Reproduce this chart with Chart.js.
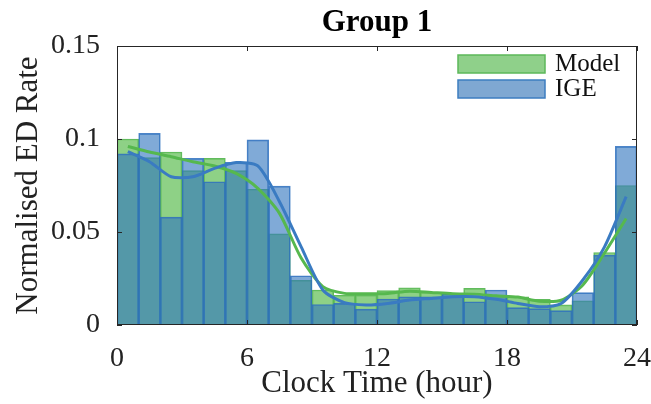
<!DOCTYPE html>
<html>
<head>
<meta charset="utf-8">
<script src="https://cdn.jsdelivr.net/npm/chart.js@4.4.1/dist/chart.umd.min.js"></script>
<style>
  html, body { margin: 0; padding: 0; background: #fff; }
  #wrap { width: 651px; height: 404px; }
</style>
</head>
<body>
<div id="wrap"><canvas id="edChart" width="651" height="404"></canvas></div>
<script>
// histogram bins (one per clock hour)
const hourBins = ['0-1','1-2','2-3','3-4','4-5','5-6','6-7','7-8','8-9','9-10','10-11','11-12',
  '12-13','13-14','14-15','15-16','16-17','17-18','18-19','19-20','20-21','21-22','22-23','23-24'];
const modelRate = [0.100, 0.090, 0.093, 0.083, 0.0896, 0.083, 0.073, 0.049, 0.024, 0.0188, 0.016, 0.016,
  0.0185, 0.020, 0.0176, 0.0167, 0.0197, 0.016, 0.0152, 0.0138, 0.0108, 0.013, 0.039, 0.075];
const igeRate = [0.092, 0.103, 0.058, 0.0896, 0.077, 0.0875, 0.0995, 0.0747, 0.0265, 0.011, 0.0116, 0.0085,
  0.014, 0.0152, 0.0152, 0.017, 0.0125, 0.0188, 0.0093, 0.0088, 0.0077, 0.0174, 0.0376, 0.096];

// smoothed curves at bin centres
const binCentres = [0.5, 1.5, 2.5, 3.5, 4.5, 5.5, 6.5, 7.5, 8.5, 9.5, 10.5, 11.5,
  12.5, 13.5, 14.5, 15.5, 16.5, 17.5, 18.5, 19.5, 20.5, 21.5, 22.5, 23.5];
const modelSmooth = [0.096, 0.093, 0.0905, 0.0878, 0.0855, 0.0815, 0.0735, 0.060, 0.036, 0.0206, 0.017, 0.0168,
  0.017, 0.0182, 0.0175, 0.0168, 0.0166, 0.0157, 0.015, 0.0128, 0.0133, 0.0215, 0.0387, 0.0573];
const igeSmooth = [0.0932, 0.0878, 0.0797, 0.0797, 0.0842, 0.0873, 0.0855, 0.0663, 0.042, 0.0188, 0.012, 0.0108,
  0.0116, 0.0134, 0.0143, 0.0152, 0.0152, 0.0138, 0.0116, 0.0098, 0.0116, 0.0242, 0.042, 0.069];

const xTicks = [0, 6, 12, 18, 24];
const yTicks = [0, 0.05, 0.1, 0.15];

const serif = '"Liberation Serif", "DejaVu Serif", serif';
const inkColor = '#262626';

const toPoints = vals => vals.map((v, i) => ({ x: binCentres[i], y: v }));

// box, inward ticks, title and legend
const framePlugin = {
  id: 'frame',
  afterDraw(chart) {
    const { ctx, chartArea: a, scales } = chart;
    ctx.save();
    ctx.strokeStyle = inkColor;
    ctx.lineWidth = 1;
    ctx.strokeRect(a.left + 0.5, a.top + 0.5, a.right - a.left - 1, a.bottom - a.top - 1);
    ctx.beginPath();
    xTicks.forEach(v => {
      const px = Math.round(scales.x2.getPixelForValue(v)) + 0.5;
      ctx.moveTo(px, a.bottom); ctx.lineTo(px, a.bottom - 5);
      ctx.moveTo(px, a.top); ctx.lineTo(px, a.top + 5);
    });
    yTicks.forEach(v => {
      const py = Math.round(scales.y.getPixelForValue(v)) + 0.5;
      ctx.moveTo(a.left, py); ctx.lineTo(a.left + 5, py);
      ctx.moveTo(a.right, py); ctx.lineTo(a.right - 5, py);
    });
    ctx.stroke();

    // title
    ctx.fillStyle = '#000';
    ctx.font = 'bold 31px ' + serif;
    ctx.textAlign = 'center';
    ctx.textBaseline = 'middle';
    ctx.fillText('Group 1', (a.left + a.right) / 2, a.top - 23);

    // legend (bars only)
    const items = [
      { text: 'Model', fill: 'rgba(143,208,138,1)', edge: '#5cb85a' },
      { text: 'IGE', fill: 'rgba(127,168,210,1)', edge: '#3d7dc0' }
    ];
    const lx = a.right - 179, ly = a.top + 9;
    ctx.font = '25px ' + serif;
    ctx.textAlign = 'left';
    items.forEach((it, i) => {
      const y = ly + i * 25;
      ctx.fillStyle = it.fill;
      ctx.fillRect(lx, y, 87, 18);
      ctx.strokeStyle = it.edge;
      ctx.lineWidth = 1.5;
      ctx.strokeRect(lx, y, 87, 18);
      ctx.fillStyle = '#111';
      ctx.fillText(it.text, lx + 97, y + 9);
    });
    ctx.restore();
  }
};

new Chart(document.getElementById('edChart'), {
  type: 'bar',
  data: {
    labels: hourBins,
    datasets: [
      {
        label: 'Model smooth', type: 'line', xAxisID: 'x2',
        data: toPoints(modelSmooth),
        borderColor: '#56b84e', borderWidth: 3, pointRadius: 0,
        tension: 0.25, order: 1
      },
      {
        label: 'IGE smooth', type: 'line', xAxisID: 'x2',
        data: toPoints(igeSmooth),
        borderColor: '#3a7bc2', borderWidth: 3, pointRadius: 0,
        tension: 0.25, order: 0
      },
      {
        label: 'IGE', data: igeRate, xAxisID: 'x',
        backgroundColor: 'rgba(50,118,190,0.62)', borderColor: 'rgba(45,110,190,0.85)',
        borderWidth: 1, grouped: false, categoryPercentage: 1, barPercentage: 1, order: 2
      },
      {
        label: 'Model', data: modelRate, xAxisID: 'x',
        backgroundColor: 'rgba(110,196,100,0.78)', borderColor: 'rgba(80,180,75,0.9)',
        borderWidth: 1, grouped: false, categoryPercentage: 1, barPercentage: 1, order: 3
      }
    ]
  },
  options: {
    responsive: false,
    devicePixelRatio: 1,
    animation: false,
    layout: { padding: { left: 10, right: 14, top: 46, bottom: 2 } },
    plugins: {
      legend: { display: false },
      title: { display: false },
      tooltip: { enabled: false }
    },
    scales: {
      x: { type: 'category', display: false, offset: true },
      x2: {
        type: 'linear', position: 'bottom', min: 0, max: 24, offset: false,
        afterBuildTicks: s => { s.ticks = xTicks.map(v => ({ value: v })); },
        afterFit: s => { s.height = 77; s.paddingLeft = 0; s.paddingRight = 0; },
        grid: { display: false }, border: { display: false },
        ticks: { color: '#222', font: { family: serif, size: 28 }, padding: 9, maxRotation: 0 },
        title: { display: true, text: 'Clock Time (hour)', color: '#222', font: { family: serif, size: 31 }, padding: 0 }
      },
      y: {
        min: 0, max: 0.15,
        afterBuildTicks: s => { s.ticks = yTicks.map(v => ({ value: v })); },
        afterFit: s => { s.width = 107; s.paddingTop = 0; s.paddingBottom = 0; },
        grid: { display: false }, border: { display: false },
        ticks: { color: '#222', font: { family: serif, size: 28 }, padding: 9, callback: v => String(v) },
        title: { display: true, text: 'Normalised ED Rate', color: '#222', font: { family: serif, size: 31 }, padding: 0 }
      }
    }
  },
  plugins: [framePlugin]
});
</script>
</body>
</html>
